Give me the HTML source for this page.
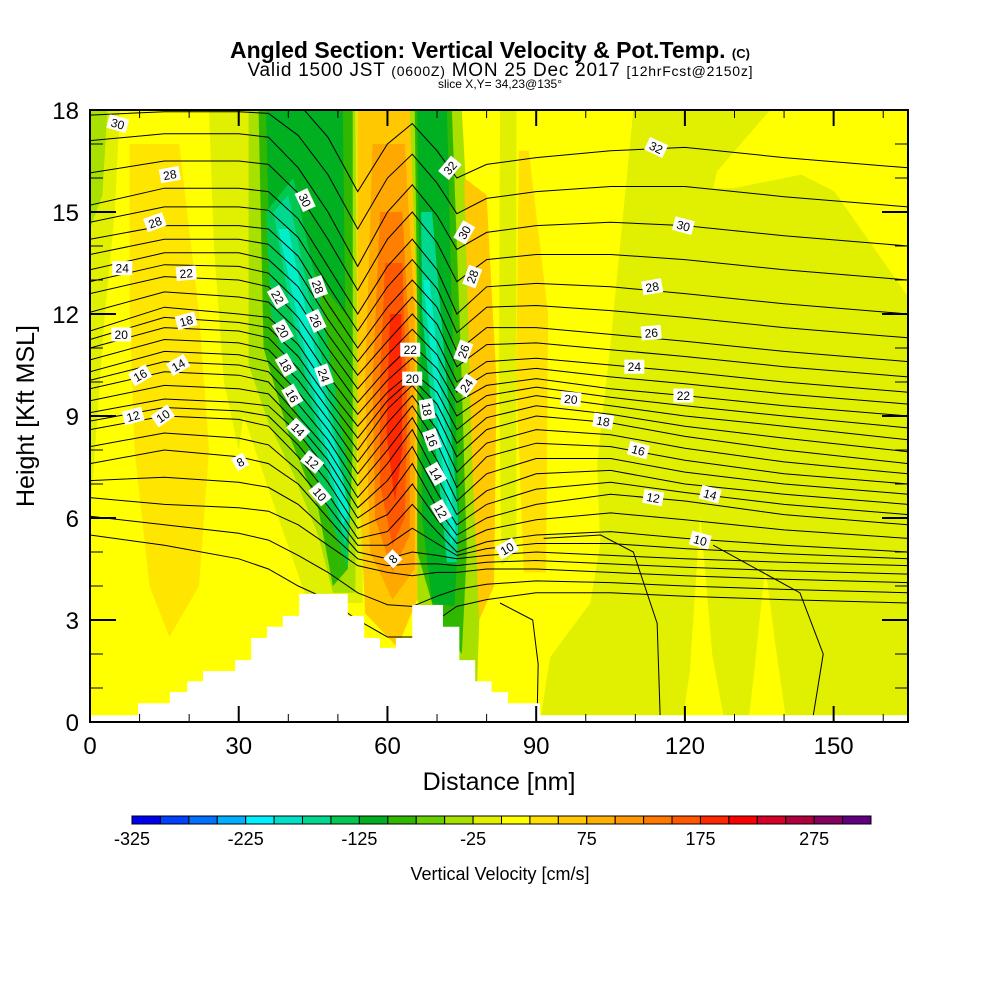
<!DOCTYPE html>
<html><head><meta charset="utf-8"><style>
body{margin:0;background:#fff;}
svg text{font-family:"Liberation Sans",sans-serif;}
</style></head><body>
<svg id="chart" width="1000" height="1000" viewBox="0 0 1000 1000" xmlns="http://www.w3.org/2000/svg">
<rect width="1000" height="1000" fill="#fff"/>
<text x="490" y="58" font-size="23" font-weight="bold" text-anchor="middle" textLength="520">Angled Section: Vertical Velocity &amp; Pot.Temp. <tspan font-size="13">(C)</tspan></text>
<text x="500" y="76" font-size="19" text-anchor="middle" textLength="505">Valid 1500 JST <tspan font-size="14">(0600Z)</tspan> MON 25 Dec 2017 <tspan font-size="14">[12hrFcst@2150z]</tspan></text>
<text x="500" y="88" font-size="12" text-anchor="middle">slice X,Y= 34,23@135°</text>
<defs><clipPath id="plotclip"><rect x="90" y="110" width="818" height="612"/></clipPath></defs>
<g id="plot" clip-path="url(#plotclip)"></g>
<g id="axes"></g>
<g id="cbar"></g>
<text x="499" y="790" font-size="25" text-anchor="middle">Distance [nm]</text>
<text x="0" y="0" font-size="25" text-anchor="middle" transform="translate(34,416) rotate(-90)">Height [Kft MSL]</text>
<text x="500" y="880" font-size="18" text-anchor="middle">Vertical Velocity [cm/s]</text>
</svg>
<script>
// ---- data ----
const stations = [0,15,30,36,42,48,54,60,65,70,74,80,90,105,120,140,165];
const thetaLevels = [4,6,8,10,12,14,16,18,20,22,24,26,28,30,32];
const th4  = [5.5,5.2,4.8,4.5,4.0,3.6,3.0,2.5,2.5,3.0,3.4,3.6,3.8,3.8,3.7,3.6,3.5];
const th6  = [6.6,6.4,6.3,6.2,5.8,5.2,4.6,4.4,4.3,4.4,4.4,4.5,4.5,4.4,4.3,4.2,4.1];
const th8  = [7.6,8.0,7.8,7.6,7.0,6.0,5.0,4.8,5.0,4.9,4.8,4.9,5.0,4.9,4.8,4.7,4.6];
const th10 = [8.6,9.0,8.9,8.7,7.8,6.7,5.4,5.6,6.4,5.6,5.0,5.3,5.5,5.6,5.4,5.2,5.0];
const th12 = [9.1,9.5,9.4,9.3,8.5,7.4,6.0,6.6,7.6,6.3,5.5,6.0,6.4,6.7,6.5,6.1,5.8];
const th14 = [9.8,10.3,10.2,10.0,9.0,8.0,6.6,7.6,8.6,7.2,6.1,6.8,7.3,7.4,7.0,6.7,6.4];
const th16 = [10.3,10.9,10.8,10.6,9.7,8.6,7.3,8.4,9.3,8.2,6.9,7.8,8.2,8.1,7.7,7.3,7.0];
const th18 = [11.0,11.6,11.5,11.3,10.4,9.2,8.0,9.2,9.9,9.0,7.8,8.6,9.0,8.8,8.4,8.0,7.6];
const th20 = [11.5,12.2,12.0,11.9,11.1,9.8,8.7,9.7,10.3,9.7,8.6,9.3,9.6,9.3,9.0,8.7,8.3];
const th22 = [12.6,13.1,13.0,12.8,11.9,10.6,9.4,10.4,11.1,10.4,9.4,9.9,10.1,9.8,9.6,9.3,9.0];
const th24 = [13.3,13.8,13.8,13.6,12.8,11.4,10.2,11.2,12.0,11.2,10.0,10.6,10.7,10.5,10.3,10.0,9.7];
const th26 = [14.2,14.6,14.6,14.5,13.7,12.3,11.0,12.2,13.0,12.2,10.9,11.6,11.6,11.4,11.2,10.9,10.6];
const th28 = [15.2,15.7,15.7,15.6,14.8,13.4,12.0,13.4,14.2,13.3,12.0,12.8,12.9,12.8,12.6,12.3,12.0];
const th30 = [17.1,17.3,17.3,17.2,16.3,15.0,13.4,15.0,15.8,14.9,13.9,14.4,14.6,14.7,14.6,14.3,14.0];
const th32 = [18.6,18.6,18.6,18.6,18.2,17.2,15.6,17.0,17.6,16.8,16.0,16.4,16.6,16.8,16.9,16.6,16.3];
const thetaSeries = [th4,th6,th8,th10,th12,th14,th16,th18,th20,th22,th24,th26,th28,th30,th32];
// closed low-level contours on right side [nm, kft]
const lowContourA = [[82.7,3.5],[89.3,3.0],[90.4,1.7],[90.2,0.2]];
const lowContourB = [[91.5,5.4],[103,5.5],[109.6,5.0],[114.4,2.9],[115,0.2]];
const lowContourC = [[125.7,5.2],[143.2,3.8],[147.9,2.0],[145.9,0.2]];
// terrain steps [nm, kft]
const terrainX = [0,9.7,16.1,19.6,22.8,29.3,32.5,35.7,38.9,42.2,52,55.3,58.5,61.7,65,71.2,74.5,77.7,81,84.3,90.8,166];
const terrainH = [0.2,0.55,0.88,1.2,1.5,1.82,2.47,2.8,3.12,3.77,3.12,2.47,2.18,2.47,3.44,2.8,1.82,1.2,0.88,0.55,0.2];
// vertical velocity shaded regions [color, points nm/kft]
const fieldRegions = [
 ["#e0f000",[[0,18],[6,18],[5,15],[3,12],[1,8],[0,6]]],
 ["#a8e000",[[0,18],[3.5,18],[2.5,15.5],[0,14.5]]],
 ["#ffe600",[[8,17],[18,17],[22,12],[24,8],[22,4],[16,2.5],[12,4],[9,8],[8,12]]],
 ["#e0f000",[[24,18],[30,18],[32,10],[30,8],[27,10],[25,14]]],
 ["#e0f000",[[30,18],[55,18],[55,3.5],[44,3.5],[38,6],[31,9]]],
 ["#a8e000",[[32,18],[53.5,18],[54,10],[53.5,3.8],[49,3.8],[46,5.5],[41,7.3],[36,8.8],[32,10.5]]],
 ["#30b800",[[34,18],[53,18],[53,8],[52,4.5],[49,4],[46,6.3],[40,8.5],[35,11]]],
 ["#00b020",[[35.5,18],[51,18],[51.5,12],[46,13],[40,15],[36,15]]],
 ["#00c850",[[35.5,15],[41,16],[47,12],[52.5,7],[52,4.5],[48,6.2],[42,9],[36.5,12]]],
 ["#00d890",[[37,15],[40,15.5],[47,10.5],[52.5,6],[51.5,5.2],[46,8.5],[40,12.5]]],
 ["#00eec8",[[38,14.5],[40,14.5],[52.3,6.2],[51,5.8]]],
 ["#ffc800",[[54,18],[64.5,18],[66,14],[66,3.6],[62,2.2],[55.5,3.2],[54,8]]],
 ["#ffa800",[[57,17],[63.5,17],[65.5,12],[65.5,4.5],[61,3.6],[56.5,5],[55.5,10]]],
 ["#ff8000",[[58.5,15],[63,15],[64.5,11],[64.5,5.5],[61,4.4],[57.5,6],[57,10]]],
 ["#ff5800",[[59.5,13.5],[63,13.5],[64,9],[63.5,6],[61,5.2],[58.5,7],[58.5,10]]],
 ["#ff2800",[[60.5,12],[62.8,12],[63,8],[61.5,6.5],[59.8,8.5]]],
 ["#a8e000",[[64.5,18],[75,18],[78,10],[79,5],[78,0.8],[72,1.2],[66,3.6],[66,12]]],
 ["#30b800",[[65.5,18],[73,18],[75,10],[76,5],[75,2],[70,3],[66,5],[66,12]]],
 ["#00b020",[[66,18],[72,18],[73,12],[74.5,6],[73.5,3.4],[69,3.5],[67,6],[66.5,12]]],
 ["#00d890",[[66.8,15],[69,15],[74.3,6],[74,4.7],[72,4.7],[67,12]]],
 ["#00eec8",[[67.2,13],[68.5,13],[73.8,5.5],[72.8,5.2]]],
 ["#ffc800",[[75.5,16],[80,15.5],[82,10],[81.5,4],[78.5,3],[77,8]]],
 ["#ffe000",[[86.5,16.8],[88.5,16.8],[92.4,12],[92,4.4],[87.5,4.4],[86,10]]],
 ["#e0f000",[[82.7,18],[86,18],[86,5],[83,4.6],[82.5,10]]],
 ["#e0f000",[[109.6,18],[137.2,18],[126.5,16.2],[125.7,15.7],[129.8,15.7],[143.5,16.1],[150.2,15.6],[166,12.3],[166,0],[90.8,0],[92.8,1.9],[100.9,3.5],[102.9,5.2],[102.3,7.6],[104.9,11]]],
 ["#ffff00",[[123.1,6.1],[121,1.5],[119.5,0],[128,0],[125.5,2]]],
 ["#ffff00",[[136.2,4.6],[134,1.5],[132.8,0],[140.5,0],[138.5,2]]]
];
// contour labels [text, nm, kft, rotation]
const contourLabels = [
 ["30",5.6,17.6,15],["28",16.1,16.1,-10],["28",13.1,14.7,-20],["24",6.5,13.35,0],["22",19.4,13.2,-5],
 ["20",6.3,11.4,0],["18",19.4,11.8,-15],["16",10.1,10.2,-30],["14",17.8,10.5,-30],["12",8.7,9.0,-15],
 ["10",14.7,9.0,-35],["8",30.3,7.65,-30],["30",43.4,15.35,65],["28",46,12.8,70],["22",37.9,12.5,60],
 ["26",45.6,11.8,65],["20",38.9,11.5,60],["18",39.5,10.5,60],["24",47.2,10.2,70],["16",40.8,9.6,60],
 ["14",42,8.6,45],["12",44.8,7.65,40],["10",46.4,6.7,50],["8",61.1,4.8,-45],["22",64.6,10.95,0],
 ["20",65,10.1,0],["18",68,9.2,80],["16",69,8.3,70],["14",69.8,7.3,60],["12",70.8,6.2,60],
 ["32",72.6,16.3,-50],["30",75.5,14.4,-60],["28",77.1,13.1,-70],["26",75.3,10.9,-70],["24",75.9,9.9,-55],
 ["10",84.1,5.1,-30],["20",97,9.5,5],["18",103.5,8.85,10],["16",110.6,8.0,15],["12",113.6,6.6,10],
 ["14",125.1,6.7,15],["10",123.1,5.35,15],["32",114.2,16.9,25],["30",119.7,14.6,15],["28",113.4,12.8,-10],
 ["26",113.2,11.45,-5],["24",109.8,10.45,0],["22",119.7,9.6,0]
];
const xTickLabels = [0,30,60,90,120,150];
const yTickLabels = [0,3,6,9,12,15,18];
const cbarLevels = [-325,-300,-275,-250,-225,-200,-175,-150,-125,-100,-75,-50,-25,0,25,50,75,100,125,150,175,200,225,250,275,300,325];
const cbarColors = ["#0000f0","#0040ff","#0070ff","#00b0ff","#00f0ff","#00e0c8","#00d890","#00c850","#00b020","#30b800","#68d000","#a8e000","#e0f000","#ffff00","#ffe000","#ffc800","#ffb000","#ff9800","#ff7800","#ff5800","#ff2800","#ff0000","#d80028","#b00040","#880060","#600080"];
const cbarTickLabels = [-325,-225,-125,-25,75,175,275];

// ---- scales ----
const NS="http://www.w3.org/2000/svg";
const X0=90,X1=908,Y0=722,Y1=110;
const sx = d => X0 + d*(X1-X0)/165;
const sy = h => Y0 - h*(Y0-Y1)/18;
function mk(tag, attrs, parent){const e=document.createElementNS(NS,tag);for(const k in attrs)e.setAttribute(k,attrs[k]);parent.appendChild(e);return e;}
const plot=document.getElementById('plot');
const axes=document.getElementById('axes');
const cbar=document.getElementById('cbar');

const bg=mk('rect',{x:X0,y:Y1,width:X1-X0,height:Y0-Y1,fill:'#ffff00'},plot);



fieldRegions.forEach((r,i)=>{
  const p=mk('polygon',{points:r[1].map(q=>sx(q[0])+','+sy(q[1])).join(' '),fill:r[0]},plot);
  
  
});

thetaSeries.forEach((s,i)=>{
  const pts=s.map((h,j)=>sx(stations[j])+','+sy(h)).join(' ');
  const l=mk('polyline',{points:pts,fill:'none',stroke:'#000','stroke-width':1},plot);
  
  
  if(i<thetaSeries.length-1){
    const n=thetaSeries[i+1];
    const mid=s.map((h,j)=>sx(stations[j])+','+sy((h+n[j])/2)).join(' ');
    const m=mk('polyline',{points:mid,fill:'none',stroke:'#000','stroke-width':1},plot);
    
    
  }
});
[lowContourA,lowContourB,lowContourC].forEach(c=>{
  const l=mk('polyline',{points:c.map(q=>sx(q[0])+','+sy(q[1])).join(' '),fill:'none',stroke:'#000','stroke-width':1},plot);
  
  
});

let tp=[];
for(let i=0;i<terrainH.length;i++){tp.push([terrainX[i],terrainH[i]]);tp.push([terrainX[i+1],terrainH[i]]);}
const terr=mk('polygon',{points:[[0,-1]].concat(tp,[[166,-1]]).map(q=>sx(q[0])+','+sy(q[1])).join(' '),fill:'#fff'},plot);



contourLabels.forEach(c=>{
  const g=mk('g',{transform:`translate(${sx(c[1])},${sy(c[2])}) rotate(${c[3]})`},plot);
  
  
  const w=c[0].length*7+6;
  mk('rect',{x:-w/2,y:-7,width:w,height:14,fill:'#fff'},g);
  const t=mk('text',{x:0,y:4.5,'font-size':12,'text-anchor':'middle'},g);
  t.textContent=c[0];
});

// axes frame & ticks
const fr=mk('rect',{x:X0,y:Y1,width:X1-X0,height:Y0-Y1,fill:'none',stroke:'#000','stroke-width':2},axes);


for(let d=0;d<=165;d+=10){
  const L=(d%30===0)?16:8;
  mk('line',{x1:sx(d),x2:sx(d),y1:Y0,y2:Y0-L,stroke:'#000','stroke-width':(d%30===0)?2:1},axes);
  mk('line',{x1:sx(d),x2:sx(d),y1:Y1,y2:Y1+L,stroke:'#000','stroke-width':(d%30===0)?2:1},axes);
}
for(let h=0;h<=18;h++){
  const L=(h%3===0)?26:13;
  mk('line',{x1:X0,x2:X0+L,y1:sy(h),y2:sy(h),stroke:'#000','stroke-width':(h%3===0)?2:1},axes);
  mk('line',{x1:X1,x2:X1-L,y1:sy(h),y2:sy(h),stroke:'#000','stroke-width':(h%3===0)?2:1},axes);
}
xTickLabels.forEach(v=>{
  const t=mk('text',{x:sx(v),y:754,'font-size':24,'text-anchor':'middle'},axes);
  
  
  t.textContent=v;
});
yTickLabels.forEach(v=>{
  const t=mk('text',{x:79,y:sy(v)+9,'font-size':24,'text-anchor':'end'},axes);
  
  
  t.textContent=v;
});

// colorbar
const CB0=132,CB1=871;
const cx=v=>CB0+(v-cbarLevels[0])*(CB1-CB0)/(cbarLevels[cbarLevels.length-1]-cbarLevels[0]);
cbarColors.forEach((c,i)=>{
  const r=mk('rect',{x:cx(cbarLevels[i]),y:816,width:cx(cbarLevels[i+1])-cx(cbarLevels[i]),height:8,fill:c,stroke:'#000','stroke-width':1},cbar);
  
  
});
cbarTickLabels.forEach(v=>{
  const t=mk('text',{x:cx(v),y:845,'font-size':18,'text-anchor':'middle'},cbar);
  
  
  t.textContent=v;
});
</script>
</body></html>
